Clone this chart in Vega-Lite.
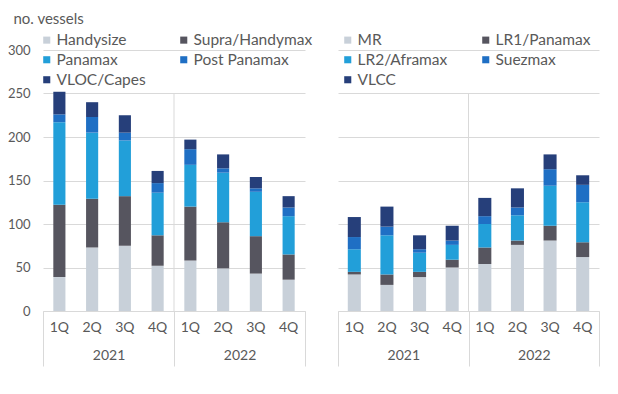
{
  "$schema": "https://vega.github.io/schema/vega-lite/v6.json",
  "padding": {"left": 7, "top": 11, "right": 5, "bottom": 5},
  "background": "white",
  "config": {
    "font": "Lato",
    "view": {"stroke": null},
    "axis": {"labelFont": "Lato", "labelColor": "#595959", "titleFont": "Lato", "titleColor": "#595959", "titleFontWeight": "normal"},
    "legend": {"labelFont": "Lato", "labelColor": "#595959"}
  },
  "datasets": {
    "dry": [
      {"key": "2021 1Q", "type": "Handysize", "value": 39}, {"key": "2021 1Q", "type": "Supra/Handymax", "value": 83}, {"key": "2021 1Q", "type": "Panamax", "value": 95}, {"key": "2021 1Q", "type": "Post Panamax", "value": 9}, {"key": "2021 1Q", "type": "VLOC/Capes", "value": 26},
      {"key": "2021 2Q", "type": "Handysize", "value": 73}, {"key": "2021 2Q", "type": "Supra/Handymax", "value": 56}, {"key": "2021 2Q", "type": "Panamax", "value": 76}, {"key": "2021 2Q", "type": "Post Panamax", "value": 18}, {"key": "2021 2Q", "type": "VLOC/Capes", "value": 17},
      {"key": "2021 3Q", "type": "Handysize", "value": 75}, {"key": "2021 3Q", "type": "Supra/Handymax", "value": 57}, {"key": "2021 3Q", "type": "Panamax", "value": 64}, {"key": "2021 3Q", "type": "Post Panamax", "value": 9}, {"key": "2021 3Q", "type": "VLOC/Capes", "value": 20},
      {"key": "2021 4Q", "type": "Handysize", "value": 52}, {"key": "2021 4Q", "type": "Supra/Handymax", "value": 35}, {"key": "2021 4Q", "type": "Panamax", "value": 49}, {"key": "2021 4Q", "type": "Post Panamax", "value": 11}, {"key": "2021 4Q", "type": "VLOC/Capes", "value": 14},
      {"key": "2022 1Q", "type": "Handysize", "value": 58}, {"key": "2022 1Q", "type": "Supra/Handymax", "value": 62}, {"key": "2022 1Q", "type": "Panamax", "value": 48}, {"key": "2022 1Q", "type": "Post Panamax", "value": 18}, {"key": "2022 1Q", "type": "VLOC/Capes", "value": 11},
      {"key": "2022 2Q", "type": "Handysize", "value": 49}, {"key": "2022 2Q", "type": "Supra/Handymax", "value": 53}, {"key": "2022 2Q", "type": "Panamax", "value": 57}, {"key": "2022 2Q", "type": "Post Panamax", "value": 5}, {"key": "2022 2Q", "type": "VLOC/Capes", "value": 16},
      {"key": "2022 3Q", "type": "Handysize", "value": 43}, {"key": "2022 3Q", "type": "Supra/Handymax", "value": 43}, {"key": "2022 3Q", "type": "Panamax", "value": 51}, {"key": "2022 3Q", "type": "Post Panamax", "value": 4}, {"key": "2022 3Q", "type": "VLOC/Capes", "value": 13},
      {"key": "2022 4Q", "type": "Handysize", "value": 36}, {"key": "2022 4Q", "type": "Supra/Handymax", "value": 29}, {"key": "2022 4Q", "type": "Panamax", "value": 44}, {"key": "2022 4Q", "type": "Post Panamax", "value": 10}, {"key": "2022 4Q", "type": "VLOC/Capes", "value": 13}
    ],
    "tank": [
      {"key": "2021 1Q", "type": "MR", "value": 42}, {"key": "2021 1Q", "type": "LR1/Panamax", "value": 3}, {"key": "2021 1Q", "type": "LR2/Aframax", "value": 26}, {"key": "2021 1Q", "type": "Suezmax", "value": 14}, {"key": "2021 1Q", "type": "VLCC", "value": 23},
      {"key": "2021 2Q", "type": "MR", "value": 30}, {"key": "2021 2Q", "type": "LR1/Panamax", "value": 12}, {"key": "2021 2Q", "type": "LR2/Aframax", "value": 45}, {"key": "2021 2Q", "type": "Suezmax", "value": 10}, {"key": "2021 2Q", "type": "VLCC", "value": 23},
      {"key": "2021 3Q", "type": "MR", "value": 39}, {"key": "2021 3Q", "type": "LR1/Panamax", "value": 6}, {"key": "2021 3Q", "type": "LR2/Aframax", "value": 22}, {"key": "2021 3Q", "type": "Suezmax", "value": 4}, {"key": "2021 3Q", "type": "VLCC", "value": 16},
      {"key": "2021 4Q", "type": "MR", "value": 50}, {"key": "2021 4Q", "type": "LR1/Panamax", "value": 9}, {"key": "2021 4Q", "type": "LR2/Aframax", "value": 17}, {"key": "2021 4Q", "type": "Suezmax", "value": 5}, {"key": "2021 4Q", "type": "VLCC", "value": 17},
      {"key": "2022 1Q", "type": "MR", "value": 54}, {"key": "2022 1Q", "type": "LR1/Panamax", "value": 19}, {"key": "2022 1Q", "type": "LR2/Aframax", "value": 27}, {"key": "2022 1Q", "type": "Suezmax", "value": 9}, {"key": "2022 1Q", "type": "VLCC", "value": 21},
      {"key": "2022 2Q", "type": "MR", "value": 76}, {"key": "2022 2Q", "type": "LR1/Panamax", "value": 5}, {"key": "2022 2Q", "type": "LR2/Aframax", "value": 29}, {"key": "2022 2Q", "type": "Suezmax", "value": 9}, {"key": "2022 2Q", "type": "VLCC", "value": 22},
      {"key": "2022 3Q", "type": "MR", "value": 81}, {"key": "2022 3Q", "type": "LR1/Panamax", "value": 17}, {"key": "2022 3Q", "type": "LR2/Aframax", "value": 46}, {"key": "2022 3Q", "type": "Suezmax", "value": 19}, {"key": "2022 3Q", "type": "VLCC", "value": 17},
      {"key": "2022 4Q", "type": "MR", "value": 62}, {"key": "2022 4Q", "type": "LR1/Panamax", "value": 17}, {"key": "2022 4Q", "type": "LR2/Aframax", "value": 46}, {"key": "2022 4Q", "type": "Suezmax", "value": 20}, {"key": "2022 4Q", "type": "VLCC", "value": 11}
    ],
    "years": [{"year": "2022"}]
  },
  "spacing": 24,
  "resolve": {"scale": {"color": "independent"}},
  "hconcat": [
    {
      "width": 262,
      "height": 261,
      "resolve": {"scale": {"x": "independent"}},
      "layer": [
        {
          "data": {"name": "dry"},
          "transform": [{"calculate": "indexof(['Handysize', 'Supra/Handymax', 'Panamax', 'Post Panamax', 'VLOC/Capes'], datum.type)", "as": "stackorder"}],
          "mark": {"type": "bar"},
          "encoding": {
            "x": {"field": "key", "type": "ordinal", "sort": null,
              "scale": {"paddingInner": 0.63, "paddingOuter": 0.315},
              "axis": {"orient": "bottom", "title": null, "labelExpr": "split(datum.label, ' ')[1]", "labelAngle": 0, "labelFontSize": 14, "ticks": false, "labelPadding": 9, "domainColor": "#d9d9d9", "grid": false}},
            "y": {"field": "value", "type": "quantitative", "stack": "zero",
              "scale": {"domain": [0, 300], "nice": false},
              "axis": {"values": [0, 50, 100, 150, 200, 250, 300], "title": "no. vessels", "titleAngle": 0, "titleAlign": "left", "titleBaseline": "top", "titleX": -30, "titleY": -39, "titleFontSize": 15, "labelFontSize": 13, "labelPadding": 13, "ticks": false, "domain": false, "gridColor": "#d9d9d9"}},
            "order": {"field": "stackorder", "type": "quantitative", "sort": "ascending"},
            "color": {"field": "type", "type": "nominal",
              "sort": ["Handysize", "Supra/Handymax", "Panamax", "Post Panamax", "VLOC/Capes"],
              "scale": {"domain": ["Handysize", "Supra/Handymax", "Panamax", "Post Panamax", "VLOC/Capes"], "range": ["#c8d0d9", "#56555f", "#229fd9", "#1f6fc4", "#263f7a"]},
              "legend": {"title": null, "orient": "none", "direction": "horizontal", "legendX": -4, "legendY": -18, "columns": 2, "columnPadding": 30, "rowPadding": 3, "symbolType": "square", "symbolSize": 50, "symbolStrokeWidth": 0, "labelFontSize": 15.5, "labelOffset": 2, "padding": 0, "labelLimit": 200}}
          }
        },
        {
          "data": {"name": "years"},
          "mark": {"type": "rule", "color": "#d9d9d9"},
          "encoding": {
            "x": {"field": "year", "type": "ordinal", "bandPosition": 0,
              "scale": {"domain": ["2021", "2022"], "paddingInner": 0, "paddingOuter": 0},
              "axis": {"orient": "bottom", "title": null, "domain": false, "grid": false, "tickBand": "extent", "tickSize": 55, "tickColor": "#d9d9d9", "labelAngle": 0, "labelFontSize": 14, "labelPadding": -18}},
            "y": {"datum": 0},
            "y2": {"datum": 250}
          }
        }
      ]
    },
    {
      "width": 261,
      "height": 261,
      "resolve": {"scale": {"x": "independent"}},
      "layer": [
        {
          "data": {"name": "tank"},
          "transform": [{"calculate": "indexof(['MR', 'LR1/Panamax', 'LR2/Aframax', 'Suezmax', 'VLCC'], datum.type)", "as": "stackorder"}],
          "mark": {"type": "bar"},
          "encoding": {
            "x": {"field": "key", "type": "ordinal", "sort": null,
              "scale": {"paddingInner": 0.6, "paddingOuter": 0.3},
              "axis": {"orient": "bottom", "title": null, "labelExpr": "split(datum.label, ' ')[1]", "labelAngle": 0, "labelFontSize": 14, "ticks": false, "labelPadding": 9, "domainColor": "#d9d9d9", "grid": false}},
            "y": {"field": "value", "type": "quantitative", "stack": "zero",
              "scale": {"domain": [0, 300], "nice": false},
              "axis": {"values": [0, 50, 100, 150, 200, 250, 300], "title": null, "labels": false, "ticks": false, "domain": false, "gridColor": "#d9d9d9"}},
            "order": {"field": "stackorder", "type": "quantitative", "sort": "ascending"},
            "color": {"field": "type", "type": "nominal",
              "sort": ["MR", "LR1/Panamax", "LR2/Aframax", "Suezmax", "VLCC"],
              "scale": {"domain": ["MR", "LR1/Panamax", "LR2/Aframax", "Suezmax", "VLCC"], "range": ["#c8d0d9", "#56555f", "#229fd9", "#1f6fc4", "#263f7a"]},
              "legend": {"title": null, "orient": "none", "direction": "horizontal", "legendX": 2, "legendY": -18, "columns": 2, "columnPadding": 30, "rowPadding": 3, "symbolType": "square", "symbolSize": 50, "symbolStrokeWidth": 0, "labelFontSize": 15.5, "labelOffset": 2, "padding": 0, "labelLimit": 200}}
          }
        },
        {
          "data": {"name": "years"},
          "mark": {"type": "rule", "color": "#d9d9d9"},
          "encoding": {
            "x": {"field": "year", "type": "ordinal", "bandPosition": 0,
              "scale": {"domain": ["2021", "2022"], "paddingInner": 0, "paddingOuter": 0},
              "axis": {"orient": "bottom", "title": null, "domain": false, "grid": false, "tickBand": "extent", "tickSize": 55, "tickColor": "#d9d9d9", "labelAngle": 0, "labelFontSize": 14, "labelPadding": -18}},
            "y": {"datum": 0},
            "y2": {"datum": 250}
          }
        }
      ]
    }
  ]
}
